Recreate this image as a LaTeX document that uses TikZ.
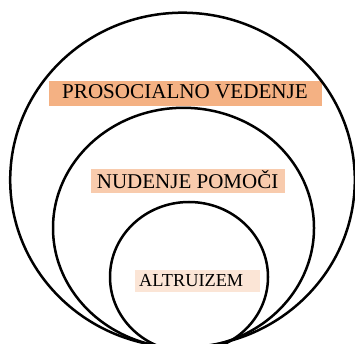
\documentclass[tikz,border=0pt]{standalone}
\usepackage{fontspec}
\setmainfont{Liberation Serif}
\definecolor{c1}{HTML}{F4B183}
\definecolor{c2}{HTML}{F8CBAD}
\definecolor{c3}{HTML}{FBE5D6}
\tikzset{
  ring/.style={draw=black, line width=2.5pt},
  lblbox/.style={inner sep=0pt, anchor=north west},
  lbl/.style={inner sep=0pt, anchor=base west, text=black}
}
\begin{document}
\begin{tikzpicture}[x=1pt,y=-1pt]
\useasboundingbox (0,0) rectangle (355,344);
\clip (0,0) rectangle (355,344);
\fill[white] (0,0) rectangle (355,344);
% boxes
\node[lblbox, fill=c1, minimum width=273pt, minimum height=25pt] (b1) at (49,81) {};
\node[lblbox, fill=c2, minimum width=194pt, minimum height=24pt] (b2) at (91,169) {};
\node[lblbox, fill=c3, minimum width=125pt, minimum height=22pt] (b3) at (135,270) {};
% rings
\draw[ring] (182.5,180) ellipse [x radius=172.3, y radius=167.3];
\draw[ring] (183.5,228) ellipse [x radius=130.5, y radius=120.2];
\draw[ring] (189,277) ellipse [x radius=79, y radius=75];
% labels
\node[lbl, font=\fontsize{21.1}{25}\selectfont] (t1) at (62,98.3) {PROSOCIALNO VEDENJE};
\node[lbl, font=\fontsize{21}{25}\selectfont] (t2) at (96.7,188.3) {NUDENJE POMOČI};
\node[lbl, font=\fontsize{18.3}{22}\selectfont] (t3) at (139,286.3) {ALTRUIZEM};
\end{tikzpicture}
\end{document}
